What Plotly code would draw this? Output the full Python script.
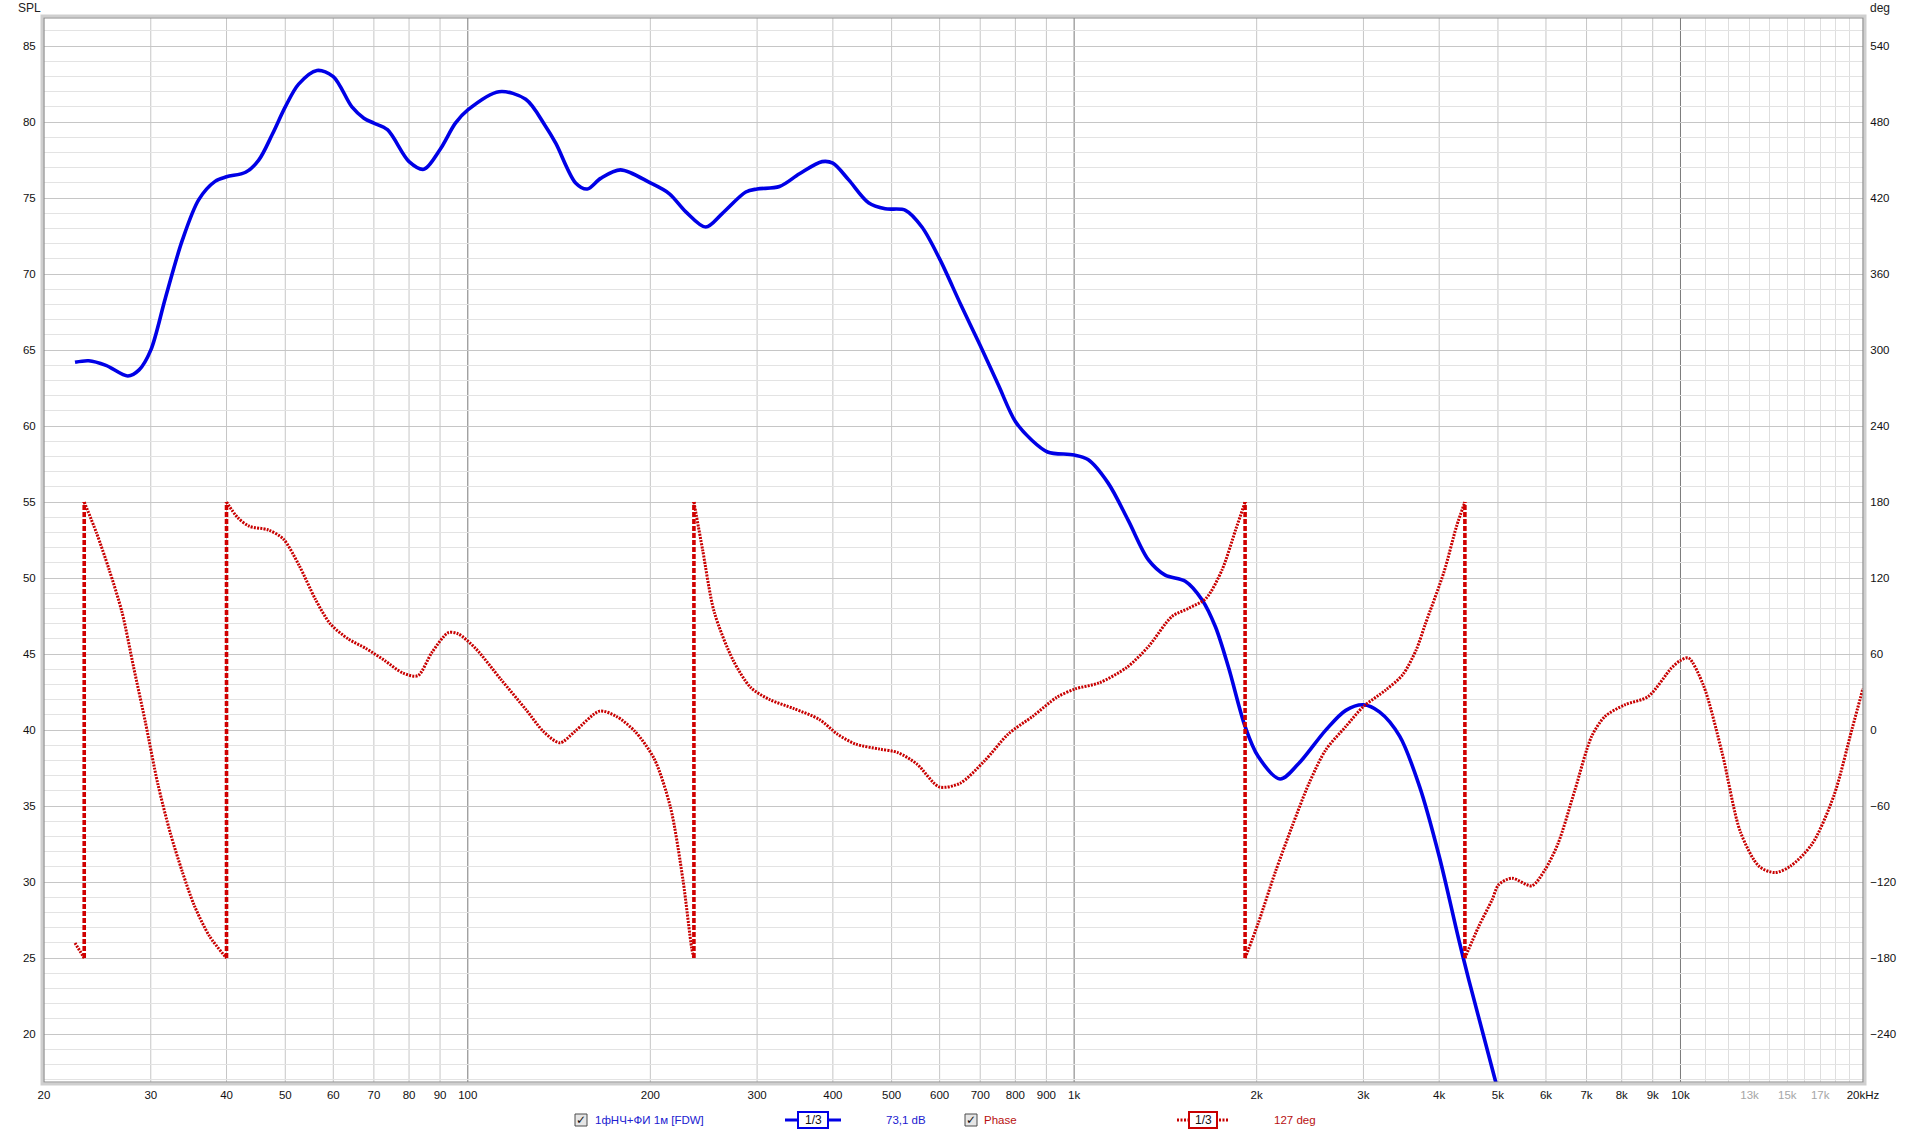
import plotly.graph_objects as go

# ---------------- data ----------------
spl_freq = [22.5, 23.7, 25.3, 27.5, 28.7, 30, 31.7, 33.8, 36.0, 38.3, 40, 43, 45.2, 47.6,
            50, 52.6, 56.4, 60, 64.4, 67.4, 70, 73.7, 80, 84.6, 90, 95.4, 100, 112.6,
            124.6, 134, 139.7, 150.6, 157.4, 165.6, 178.6, 200, 214.8, 228.9, 246.8, 263,
            287.4, 300, 326.6, 352.4, 384, 400, 424.8, 458, 488, 527, 561, 600, 650,
            700, 750, 800, 850, 904, 1000, 1054, 1138, 1228, 1326, 1413, 1525, 1624, 1710,
            1798, 1914, 2012, 2186, 2346, 2600, 2806, 3000, 3188, 3442, 3712, 4000, 4310,
            4476, 4954, 5200]
spl_db = [64.2, 64.3, 64.0, 63.3, 63.7, 65.0, 68.4, 72.2, 74.9, 76.1, 76.4, 76.7, 77.5, 79.2,
          81.0, 82.5, 83.4, 83.0, 81.0, 80.26, 79.93, 79.5, 77.4, 76.9, 78.2, 79.93, 80.8, 82.0,
          81.5, 79.8, 78.6, 76.0, 75.6, 76.3, 76.86, 76.0, 75.3, 74.1, 73.1, 74.0,
          75.4, 75.6, 75.76, 76.6, 77.4, 77.3, 76.2, 74.7, 74.3, 74.2, 73.1, 71.0, 68.0,
          65.3, 62.7, 60.3, 59.1, 58.3, 58.1, 57.8, 56.25, 53.8, 51.2, 50.2, 49.8, 48.6, 46.8,
          44.1, 40.24, 38.26, 36.78, 37.8, 40.0, 41.3, 41.67, 41.2, 39.6, 36.3, 31.7, 26.2,
          23.57, 16.9, 13.5]

# phase, wrapped to +-180 deg; None separates the wrapped pieces
phase_freq = [22.5, 23.3, None,
              23.3, 24.4, 25.6, 26.9, 28.1, 29.4, 30.8, 32.3, 33.8, 35.4, 37.5, 40, None,
              40, 41.7, 43.6, 46.9, 49.6, 52.7, 56.1, 59.3, 63.5, 67.9, 72.9, 78.2, 82.7,
              87.3, 92.9, 96.4, 103, 113.4, 124.8, 133.4, 141.9, 150.2, 165, 175.6, 188.7,
              202.9, 215.9, 226.5, 234, 236, None,
              236, 244, 255, 274, 293, 315, 345, 380, 407, 436, 478, 512, 551, 599, 648, 711,
              779, 855, 937, 1004, 1101, 1222, 1326, 1450, 1546, 1650, 1754, 1846, 1914, None,
              1914, 2012, 2144, 2288, 2440, 2600, 2806, 3000, 3268, 3482, 3666, 3795, 4074,
              4273, 4410, None,
              4410, 4648, 4890, 5014, 5272, 5686, 5977, 6286, 6698, 7136, 7508, 8096, 8844,
              9662, 10000, 10310, 10910, 11710, 12560, 13480, 14320, 15160, 16480, 17910,
              19200, 20000]
phase_deg = [-168, -180, None,
             180, 156, 127, 93, 50, 6, -42, -81, -111.5, -138.6, -162.7, -180, None,
             180, 168, 161, 158, 151, 130, 103, 84, 72, 64.5, 55, 45, 43,
             61.5, 77, 76, 64.5, 40, 16, -1.3, -10, -1, 15, 11, -1,
             -22.5, -61, -119, -172, -180, None,
             180, 142, 93, 55, 33.5, 24, 17, 8.4, -3.2, -11, -15, -17.7, -27, -44.8, -42, -24.5,
             -3, 11, 26, 32.5, 37.4, 49.6, 66, 89.7, 96.3, 104, 126.6, 158, 180, None,
             -180, -152.4, -112.8, -76, -42, -15.6, 2.9, 18.6, 31.8, 43.7, 63.4, 83.8, 125,
             161, 180, None,
             -180, -155, -134, -122, -116.9, -122.9, -110.3, -89.2, -47.2, -5, 10.8, 20, 26.5,
             49, 55, 57, 35.4, -17.7, -80.6, -107.6, -112.5, -107.6, -90, -51.6,
             1.6, 33]

wrap_freqs = [23.3, 40, 236, 1914, 4410]

x_tick_vals = [20, 30, 40, 50, 60, 70, 80, 90, 100, 200, 300, 400, 500, 600, 700, 800, 900,
               1000, 2000, 3000, 4000, 5000, 6000, 7000, 8000, 9000, 10000, 13000, 15000,
               17000, 20000]
x_tick_text = ['20', '30', '40', '50', '60', '70', '80', '90', '100', '200', '300', '400',
               '500', '600', '700', '800', '900', '1k', '2k', '3k', '4k', '5k', '6k', '7k',
               '8k', '9k', '10k', '13k', '15k', '17k', '20kHz']
grey_ticks = ['13k', '15k', '17k']
grid_freqs = [30, 40, 50, 60, 70, 80, 90, 200, 300, 400, 500, 600, 700, 800, 900,
              2000, 3000, 4000, 5000, 6000, 7000, 8000, 9000]
decade_freqs = [100, 1000, 10000]
fine_freqs = [11000, 12000, 13000, 14000, 15000, 16000, 17000, 18000, 19000]

spl_name = '1фНЧ+ФИ 1м [FDW]'
phase_name = 'Phase'
spl_readout = '73,1 dB'
phase_readout = '127 deg'

# ---------------- layout constants ----------------
W, H = 1920, 1135
ML, MR, MT, MB = 44, 57, 18, 53
PW, PH = W - ML - MR, H - MT - MB
Y_LO, Y_HI = 16.85, 86.85
DEG_PER_DB, DEG_ZERO_DB = 12.0, 40.0
FONT = 'Liberation Sans'
BLUE = '#0000e6'
RED = '#c80000'


def px(x):
    return (x - ML) / PW


def py(y):
    return (H - MB - y) / PH


fig = go.Figure()

fig.add_trace(go.Scatter(x=spl_freq, y=spl_db, mode='lines', name=spl_name,
                         line=dict(color=BLUE, width=3.6, shape='spline', smoothing=0.9),
                         hoverinfo='skip', showlegend=False))

fig.add_trace(go.Scatter(x=phase_freq, y=phase_deg, mode='lines', name=phase_name, yaxis='y2',
                         connectgaps=False,
                         line=dict(color=RED, width=3, dash='2px,1.2px', shape='spline',
                                   smoothing=0.8),
                         hoverinfo='skip', showlegend=False))

vx, vy = [], []
for f in wrap_freqs:
    vx += [f, f, None]
    vy += [-180, 180, None]
fig.add_trace(go.Scatter(x=vx, y=vy, mode='lines', yaxis='y2', connectgaps=False,
                         line=dict(color='#d00000', width=3.6, dash='5px,2px'),
                         hoverinfo='skip', showlegend=False))

shapes = []
for f in grid_freqs:
    shapes.append(dict(type='line', xref='x', yref='paper', x0=f, x1=f, y0=0, y1=1,
                       line=dict(color='#c6c6c6', width=1), layer='below'))
for f in decade_freqs:
    shapes.append(dict(type='line', xref='x', yref='paper', x0=f, x1=f, y0=0, y1=1,
                       line=dict(color='#7a7a7a', width=1), layer='below'))
# plot frame with light shadow
shapes.append(dict(type='rect', xref='paper', yref='paper', x0=px(ML - 2), x1=px(W - MR + 2),
                   y0=py(H - MB + 2), y1=py(MT - 2), line=dict(color='#cfcfcf', width=3),
                   layer='above'))
shapes.append(dict(type='rect', xref='paper', yref='paper', x0=0, x1=1, y0=0, y1=1,
                   line=dict(color='#8a8a8a', width=1.2), layer='above'))

ann = []
ann.append(dict(text='SPL', x=px(16), y=py(8), xref='paper', yref='paper', xanchor='left',
                yanchor='middle', showarrow=False, font=dict(family=FONT, size=12, color='#222')))
ann.append(dict(text='deg', x=px(1868), y=py(8), xref='paper', yref='paper', xanchor='left',
                yanchor='middle', showarrow=False, font=dict(family=FONT, size=12, color='#222')))

# ---------- legend row at the bottom ----------
LY = 1120


def checkbox(x0):
    shapes.append(dict(type='rect', xref='paper', yref='paper', x0=px(x0), x1=px(x0 + 12),
                       y0=py(LY + 6), y1=py(LY - 6), fillcolor='#e6e6e6',
                       line=dict(color='#4a4a4a', width=1)))
    ann.append(dict(text='✓', x=px(x0 + 6), y=py(LY), xref='paper', yref='paper',
                    xanchor='center', yanchor='middle', showarrow=False,
                    font=dict(family='DejaVu Sans', size=12, color='#111')))


def smooth_icon(x0, x1, bx0, bx1, color, dash):
    shapes.append(dict(type='line', xref='paper', yref='paper', x0=px(x0), x1=px(x1),
                       y0=py(LY), y1=py(LY), line=dict(color=color, width=3, dash=dash)))
    shapes.append(dict(type='rect', xref='paper', yref='paper', x0=px(bx0), x1=px(bx1),
                       y0=py(LY + 8), y1=py(LY - 8), fillcolor='white',
                       line=dict(color=color, width=2)))
    ann.append(dict(text='1/3', x=px((bx0 + bx1) / 2), y=py(LY), xref='paper', yref='paper',
                    xanchor='center', yanchor='middle', showarrow=False,
                    font=dict(family=FONT, size=12, color='#111')))


def label(x0, text, color):
    ann.append(dict(text=text, x=px(x0), y=py(LY), xref='paper', yref='paper',
                    xanchor='left', yanchor='middle', showarrow=False,
                    font=dict(family=FONT, size=11.5, color=color)))


checkbox(575)
label(593, spl_name, '#2020d0')
smooth_icon(785, 841, 798, 828, BLUE, 'solid')
label(884, spl_readout, '#2020d0')
checkbox(965)
label(982, phase_name, '#b81010')
smooth_icon(1177, 1229, 1189, 1217, RED, '2px,1.5px')
label(1272, phase_readout, '#b81010')

tick_text_fmt = [('<span style="color:#a6a6a6">%s</span>' % t) if t in grey_ticks else t
                 for t in x_tick_text]

fig.update_layout(
    width=W, height=H,
    margin=dict(l=ML, r=MR, t=MT, b=MB, pad=0),
    paper_bgcolor='white', plot_bgcolor='white',
    font=dict(family=FONT, size=11, color='#111'),
    shapes=shapes, annotations=ann,
    xaxis=dict(type='log', range=[1.30103, 4.30103], tickmode='array', tickvals=x_tick_vals,
               ticktext=tick_text_fmt, showgrid=False, zeroline=False, ticks='outside',
               ticklen=2, tickcolor='rgba(0,0,0,0)', automargin=False,
               tickfont=dict(family=FONT, size=11.5, color='#111'), showline=False,
               minor=dict(tickmode='array', tickvals=fine_freqs, showgrid=True,
                          gridcolor='#dedede', gridwidth=1, ticks='')),
    yaxis=dict(range=[Y_LO, Y_HI], tick0=0, dtick=5, showgrid=True, gridcolor='#c6c6c6',
               gridwidth=1, zeroline=False, ticks='outside', ticklen=5, tickcolor='rgba(0,0,0,0)',
               automargin=False, tickfont=dict(family=FONT, size=11.5, color='#111'),
               minor=dict(dtick=1, showgrid=True, gridcolor='#e3e3e3', gridwidth=1, ticks='')),
    yaxis2=dict(overlaying='y', side='right',
                range=[(Y_LO - DEG_ZERO_DB) * DEG_PER_DB, (Y_HI - DEG_ZERO_DB) * DEG_PER_DB],
                tick0=0, dtick=60, showgrid=False, zeroline=False, ticks='outside', ticklen=4,
                tickcolor='rgba(0,0,0,0)', automargin=False,
                tickfont=dict(family=FONT, size=11.5, color='#111')),
)

fig.write_html('out.html', config={'displayModeBar': False},
               post_script="document.body.style.margin='0';document.body.style.overflow='hidden';")
